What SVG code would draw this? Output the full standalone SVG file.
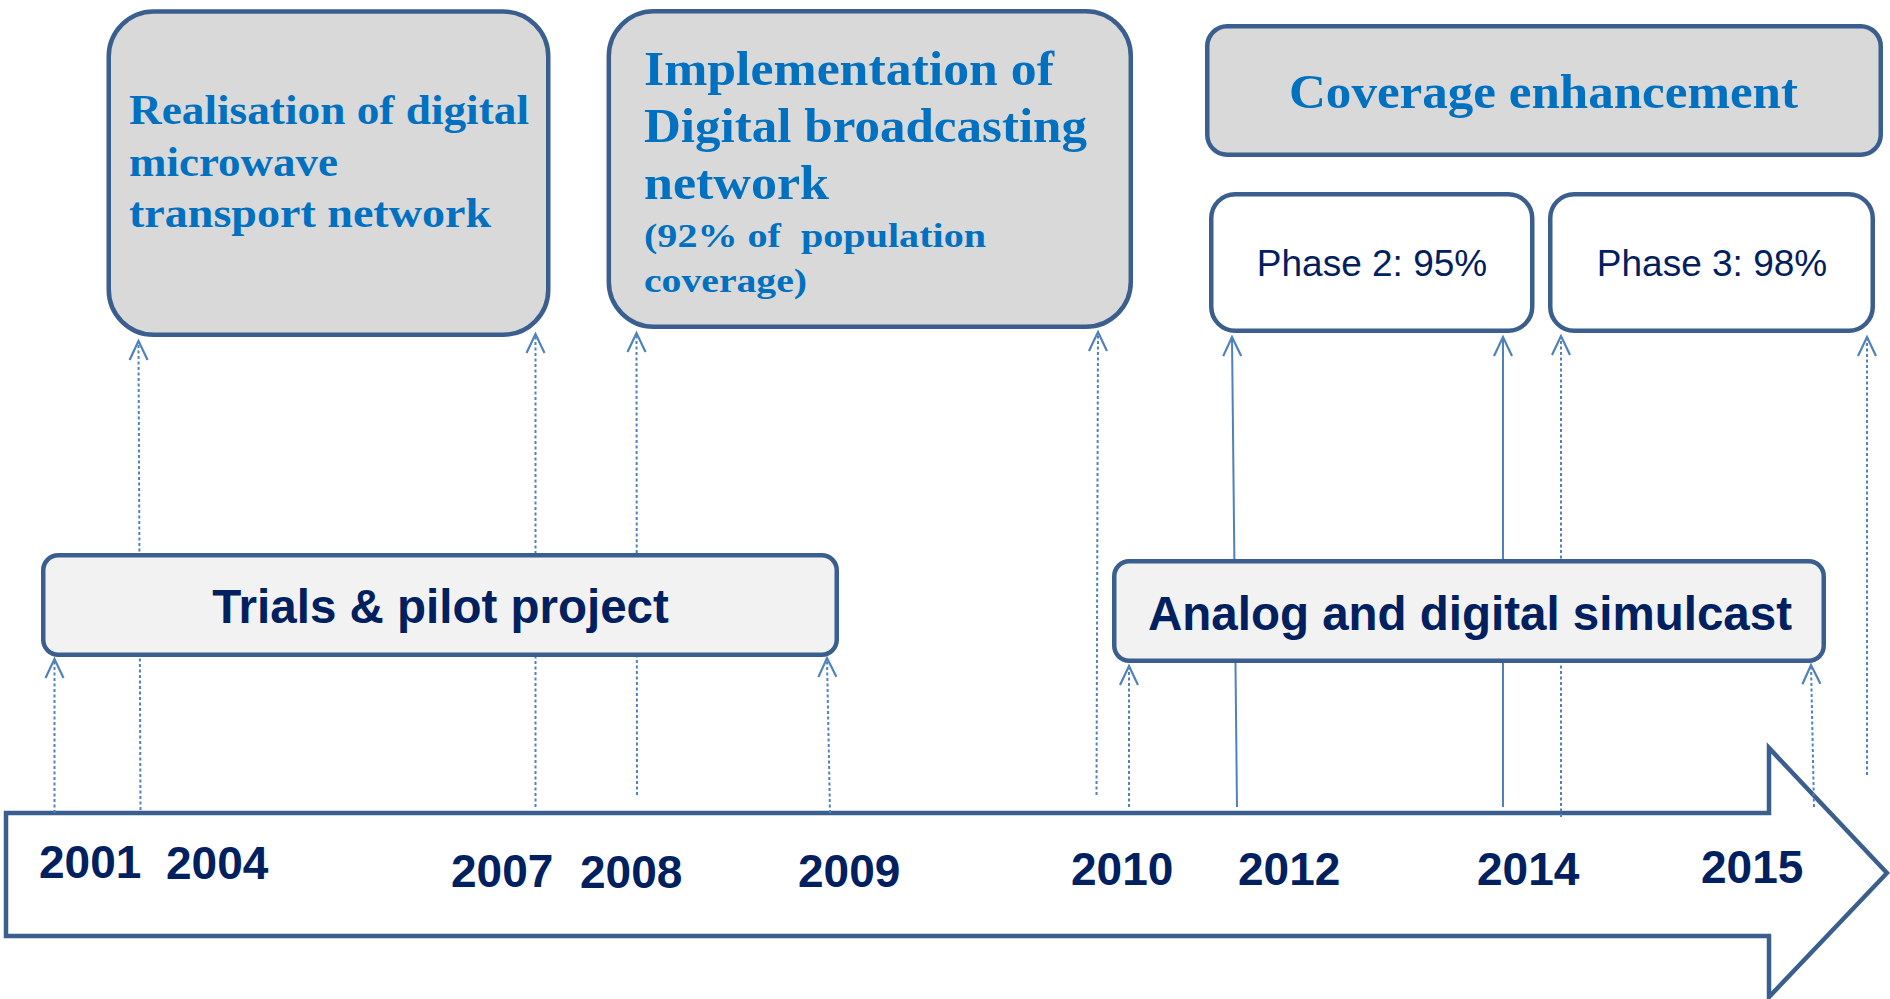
<svg xmlns="http://www.w3.org/2000/svg" width="1890" height="999" viewBox="0 0 1890 999">
<defs>
<style>
.box{stroke:#3A5F8E;stroke-width:4.5}
.grey{fill:#D9D9D9}
.light{fill:#F2F2F2}
.white{fill:#FFFFFF}
.serif{font-family:"Liberation Serif","Times New Roman",serif;font-weight:bold;fill:#0070C0}
.sans{font-family:"Liberation Sans",Arial,sans-serif;fill:#002060}
.b{font-weight:bold}
.year{font-family:"Liberation Sans",Arial,sans-serif;font-weight:bold;font-size:46px;fill:#002060}
.conn{stroke:#4F81BD;stroke-width:2;fill:none;marker-end:url(#arr)}
.dot{stroke-dasharray:3 2.5}
</style>
<marker id="arr" markerUnits="userSpaceOnUse" orient="auto" overflow="visible" refX="0" refY="0" markerWidth="24" markerHeight="22" viewBox="-22 -11 24 22">
<path d="M-19,-9 L0,0 L-19,9" fill="none" stroke="#4F81BD" stroke-width="2.2"/>
</marker>
</defs>
<rect x="0" y="0" width="1890" height="999" fill="#FFFFFF"/>

<g id="timeline">
<polygon points="6,813 1769,813 1769,748 1887,873 1769,997 1769,936 6,936" fill="#FFFFFF" stroke="#3A5F8E" stroke-width="4.5"/>
<text class="year" x="39" y="878">2001</text>
<text class="year" x="166" y="879">2004</text>
<text class="year" x="451" y="887">2007</text>
<text class="year" x="580" y="888">2008</text>
<text class="year" x="798" y="887">2009</text>
<text class="year" x="1071" y="885">2010</text>
<text class="year" x="1238" y="885">2012</text>
<text class="year" x="1477" y="885">2014</text>
<text class="year" x="1701" y="883">2015</text>
</g>

<g id="connectors">
<line class="conn dot" x1="54.5" y1="813" x2="54.5" y2="659"/>
<line class="conn dot" x1="140.5" y1="810" x2="138.5" y2="341"/>
<line class="conn dot" x1="535.5" y1="807" x2="535.5" y2="334"/>
<line class="conn dot" x1="637" y1="795" x2="636.5" y2="333"/>
<line class="conn dot" x1="830" y1="813" x2="827" y2="658"/>
<line class="conn dot" x1="1096.5" y1="795" x2="1098" y2="332"/>
<line class="conn dot" x1="1129" y1="807" x2="1129" y2="666"/>
<line class="conn" x1="1237" y1="807" x2="1232" y2="337"/>
<line class="conn" x1="1503" y1="807" x2="1503" y2="337"/>
<line class="conn dot" x1="1561" y1="817" x2="1561" y2="336"/>
<line class="conn dot" x1="1814" y1="807" x2="1811" y2="665"/>
<line class="conn dot" x1="1867" y1="775" x2="1867" y2="337"/>
</g>

<g id="realisation">
<rect class="box grey" x="108.75" y="11.5" width="439.5" height="323.3" rx="45" ry="45"/>
<text class="serif" font-size="42" x="129" y="124" textLength="400" lengthAdjust="spacingAndGlyphs">Realisation of digital</text>
<text class="serif" font-size="42" x="129" y="176" textLength="209" lengthAdjust="spacingAndGlyphs">microwave</text>
<text class="serif" font-size="42" x="129" y="227" textLength="362" lengthAdjust="spacingAndGlyphs">transport network</text>
</g>

<g id="implementation">
<rect class="box grey" x="608.8" y="11.25" width="522" height="315.5" rx="45" ry="45"/>
<text class="serif" font-size="48" x="644" y="85" textLength="410" lengthAdjust="spacingAndGlyphs">Implementation of</text>
<text class="serif" font-size="48" x="644" y="142" textLength="443" lengthAdjust="spacingAndGlyphs">Digital broadcasting</text>
<text class="serif" font-size="48" x="644" y="199" textLength="185" lengthAdjust="spacingAndGlyphs">network</text>
<text class="serif" font-size="33" x="644" y="247" textLength="342" lengthAdjust="spacingAndGlyphs" xml:space="preserve">(92% of  population</text>
<text class="serif" font-size="33" x="644" y="292" textLength="163" lengthAdjust="spacingAndGlyphs">coverage)</text>
</g>

<g id="coverage">
<rect class="box grey" x="1207.25" y="26.25" width="673.5" height="128.5" rx="20" ry="20"/>
<text class="serif" font-size="48" x="1289" y="108" textLength="509" lengthAdjust="spacingAndGlyphs">Coverage enhancement</text>
</g>

<g id="phase2">
<rect class="box white" x="1211.25" y="194.25" width="321" height="136.5" rx="24" ry="24"/>
<text class="sans" font-size="37" x="1372" y="276" text-anchor="middle">Phase 2: 95%</text>
</g>

<g id="phase3">
<rect class="box white" x="1550.25" y="194.25" width="322.5" height="136.5" rx="24" ry="24"/>
<text class="sans" font-size="37" x="1712" y="276" text-anchor="middle">Phase 3: 98%</text>
</g>

<g id="trials">
<rect class="box light" x="43.25" y="555.25" width="793.5" height="99.5" rx="15" ry="15"/>
<text class="sans b" font-size="47.5" x="440.5" y="623" text-anchor="middle">Trials &amp; pilot project</text>
</g>

<g id="simulcast">
<rect class="box light" x="1114.25" y="561.25" width="709.5" height="99.5" rx="15" ry="15"/>
<text class="sans b" font-size="47.5" x="1470" y="630" text-anchor="middle">Analog and digital simulcast</text>
</g>
</svg>
